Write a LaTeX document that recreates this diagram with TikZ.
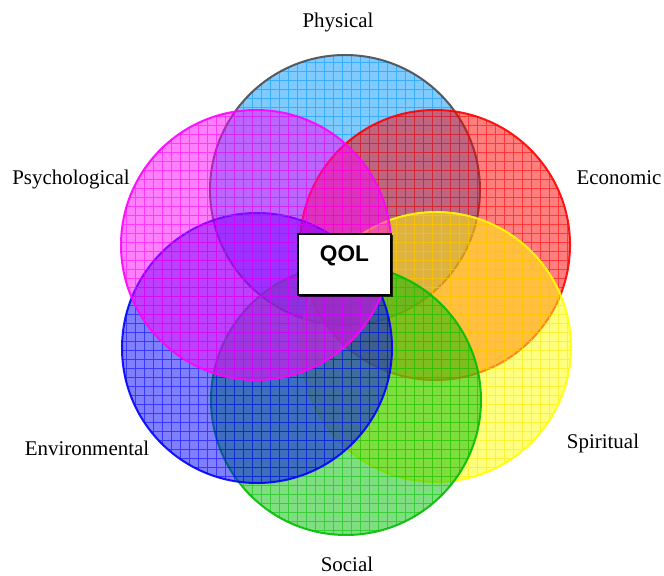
\documentclass[tikz,border=0pt]{standalone}
\usepackage{fontspec}
\setmainfont{Liberation Serif}
\newfontfamily\qolfont{Liberation Sans}
\usetikzlibrary{shadows}

\definecolor{physblue}{RGB}{0,150,255}
\definecolor{econred}{RGB}{255,0,0}
\definecolor{spiryellow}{RGB}{255,255,0}
\definecolor{socgreen}{RGB}{0,190,0}
\definecolor{envblue}{RGB}{0,0,255}
\definecolor{psymagenta}{RGB}{255,0,255}

\begin{document}
\begin{tikzpicture}[x=0.75pt,y=0.75pt,
  lbl/.style={anchor=base,font=\fontsize{15.7}{18}\selectfont},
  disc/.style={opacity=0.5},
  mesh/.style={opacity=0.55,line width=0.5pt,step=9},
  rim/.style={line width=1.5pt,draw opacity=0.9}]
\useasboundingbox (0,0) rectangle (664,575);
% Physical
\begin{scope}
\clip (345,385) circle (135);
\fill[disc,physblue] (345,385) circle (135);
\draw[mesh,physblue] (200,240) grid (490,530);
\end{scope}
\draw[rim,gray!60!black] (345,385) circle (135);
% Economic
\begin{scope}
\clip (435,330) circle (135);
\fill[disc,econred] (435,330) circle (135);
\draw[mesh,econred] (290,185) grid (580,475);
\end{scope}
\draw[rim,econred] (435,330) circle (135);
% Spiritual
\begin{scope}
\clip (436,228) circle (135);
\fill[disc,spiryellow] (436,228) circle (135);
\draw[mesh,spiryellow!80!orange] (290,85) grid (580,375);
\end{scope}
\draw[rim,spiryellow] (436,228) circle (135);
% Social
\begin{scope}
\clip (346,175) circle (135);
\fill[disc,socgreen] (346,175) circle (135);
\draw[mesh,socgreen] (200,30) grid (490,320);
\end{scope}
\draw[rim,socgreen] (346,175) circle (135);
% Environmental
\begin{scope}
\clip (257,227) circle (135);
\fill[disc,envblue] (257,227) circle (135);
\draw[mesh,envblue] (110,85) grid (400,375);
\end{scope}
\draw[rim,envblue] (257,227) circle (135);
% Psychological
\begin{scope}
\clip (256,330) circle (135);
\fill[disc,psymagenta] (256,330) circle (135);
\draw[mesh,psymagenta] (110,185) grid (400,475);
\end{scope}
\draw[rim,psymagenta] (256,330) circle (135);

\node[draw,line width=1.2pt,fill=white,minimum width=70pt,minimum height=46pt,
  drop shadow={shadow xshift=1.2pt,shadow yshift=-1.2pt,fill=black,opacity=0.8}] (qol) at (344.5,310.5) {};
\node[font=\qolfont\bfseries\fontsize{17}{20}\selectfont] (qoltext) at ([yshift=6.5pt]qol.center) {QOL};

\node[lbl] (phys) at (338,547) {Physical};
\node[lbl] (econ) at (619,390) {Economic};
\node[lbl] (spir) at (603,126) {Spiritual};
\node[lbl] (soc) at (347,4) {Social};
\node[lbl] (env) at (87,119) {Environmental};
\node[lbl] (psy) at (71,390) {Psychological};
\end{tikzpicture}
\end{document}
